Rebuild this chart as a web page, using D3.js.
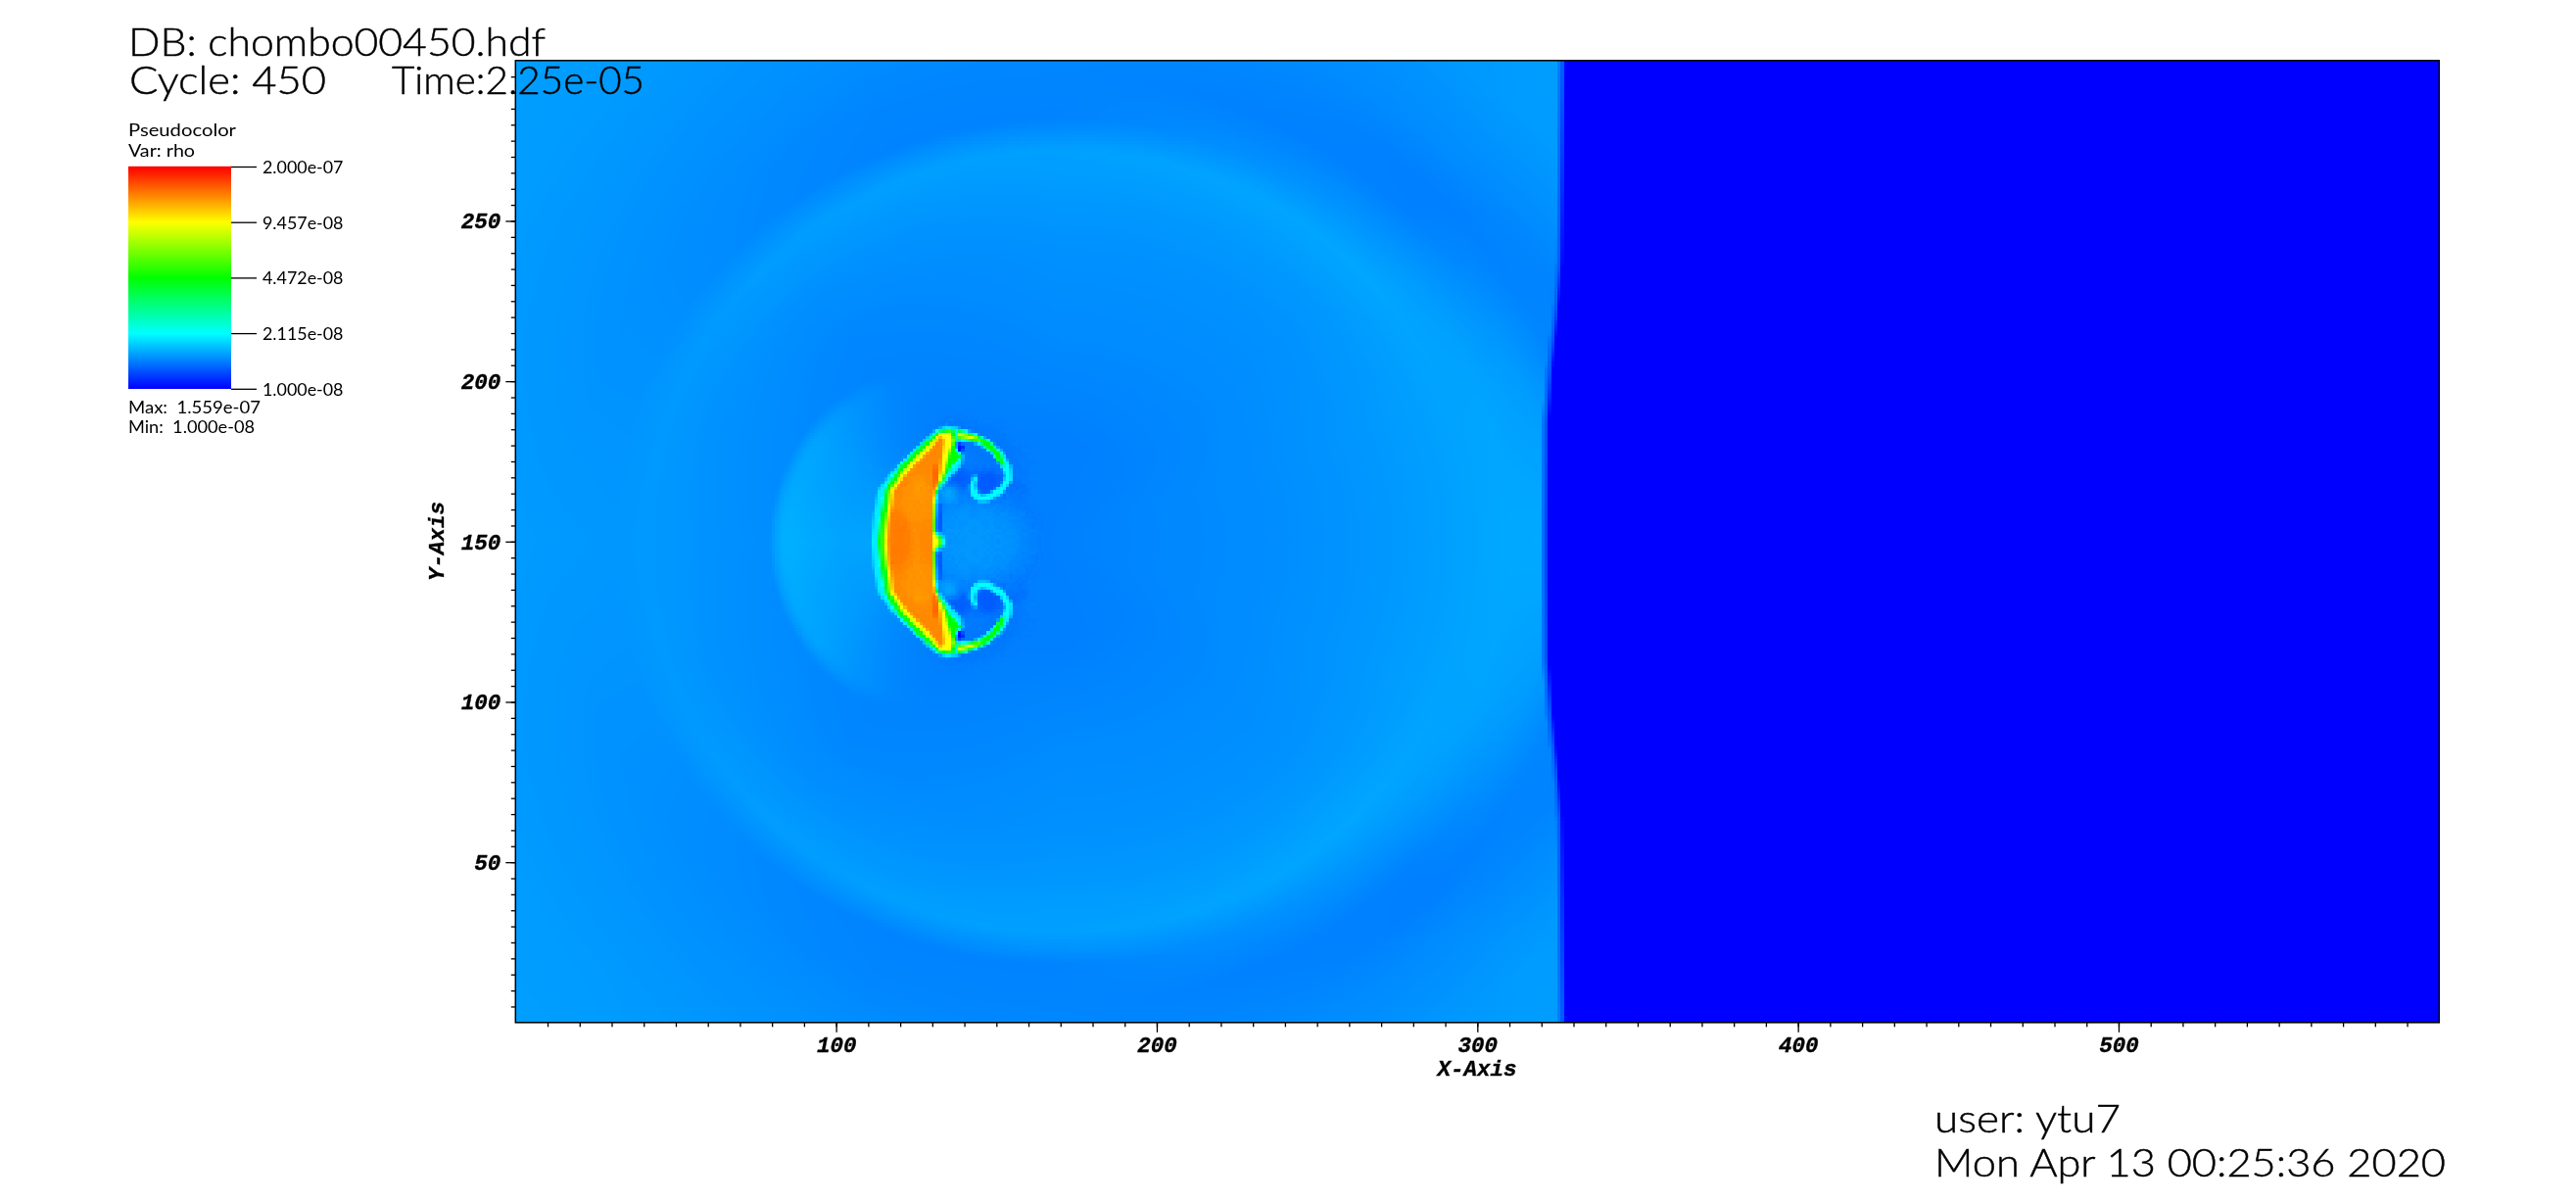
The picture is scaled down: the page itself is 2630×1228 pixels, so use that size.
<!DOCTYPE html>
<html><head><meta charset="utf-8">
<script src="https://cdn.jsdelivr.net/npm/d3@7"></script>
<style>
html,body{margin:0;padding:0;background:#fff;width:2630px;height:1228px;overflow:hidden}
#wrap{position:relative;width:2630px;height:1228px}
canvas,svg{position:absolute;left:0;top:0}
.thin{font-family:Lato,"Liberation Sans",sans-serif;font-weight:400;fill:#000;white-space:pre}
.big{font-family:Lato,"Liberation Sans",sans-serif;font-weight:300;fill:#000;stroke:#000;stroke-width:.45px;white-space:pre}
.axl{font-family:"Liberation Mono",monospace;font-weight:700;font-style:italic;fill:#000;stroke:#000;stroke-width:.35px}
</style></head><body><div id="wrap"><canvas id="c" width="2630" height="1228"></canvas><svg id="s" width="2630" height="1228"></svg></div>
<script>
// ---- labels ----
const titleLines = ["DB: chombo00450.hdf","Cycle: 450","Time:2.25e-05"];
const legendHead = ["Pseudocolor","Var: rho"];
const legendStats = ["Max:  1.559e-07","Min:  1.000e-08"];
const footerLines = ["user: ytu7","Mon Apr 13 00:25:36 2020"];
const legendTicks = [2.000e-7,9.457e-8,4.472e-8,2.115e-8,1.000e-8];
const legendTickLabels = ["2.000e-07","9.457e-08","4.472e-08","2.115e-08","1.000e-08"];
const colorStops = ["#0000ff","#00ffff","#00ff00","#ffff00","#ff0000"];
const xMajor = [100,200,300,400,500];
const yMajor = [50,100,150,200,250];
const xMinor = d3.range(10,600,10);
const yMinor = d3.range(5,300,5);
// ---- density (units of 1e-8), polar about the blast centre ----
const rhoCentre = [170,150];
const rhoStretch = 1.058;
const rhoRadii = [0,30,60,90,105,115,122,132,145,155,165,190,230,300,500];
const rhoAngles = [0,22,45,68,90,112,135,158,180];
const rhoRow0  =[1.46,1.49,1.51,1.55,1.58,1.60,1.62,1.64,1.65,1.65,1.65,1.65,1.65,1.65,1.65];
const rhoRow22 =[1.46,1.49,1.51,1.55,1.58,1.60,1.62,1.62,1.57,1.49,1.46,1.57,1.60,1.60,1.60];
const rhoRow45 =[1.46,1.47,1.50,1.53,1.56,1.60,1.63,1.56,1.46,1.45,1.50,1.58,1.60,1.60,1.60];
const rhoRow68 =[1.46,1.46,1.50,1.53,1.56,1.59,1.62,1.52,1.46,1.48,1.50,1.53,1.58,1.60,1.60];
const rhoRow90 =[1.46,1.45,1.50,1.53,1.56,1.59,1.60,1.47,1.48,1.49,1.50,1.52,1.55,1.58,1.58];
const rhoRow112=[1.46,1.45,1.48,1.51,1.54,1.57,1.60,1.47,1.48,1.50,1.52,1.55,1.58,1.60,1.60];
const rhoRow135=[1.46,1.44,1.46,1.49,1.52,1.56,1.585,1.50,1.51,1.525,1.54,1.575,1.60,1.60,1.60];
const rhoRow158=[1.46,1.46,1.47,1.51,1.53,1.55,1.57,1.54,1.54,1.55,1.56,1.585,1.60,1.60,1.60];
const rhoRow180=[1.46,1.46,1.48,1.52,1.54,1.56,1.57,1.56,1.57,1.575,1.585,1.60,1.60,1.60,1.60];
const rhoRows=[rhoRow0,rhoRow22,rhoRow45,rhoRow68,rhoRow90,rhoRow112,rhoRow135,rhoRow158,rhoRow180];
// bright lobe left of the bubble
const lobeCentre=[130,150], lobeAxes=[49,52];
const lobeRadii=[0,27,37,44,46,48,51];
const lobeRho=[1.62,1.62,1.65,1.68,1.67,1.60,1.45];
const lobeFadeAngle=[0,40,60,75,90,180];
const lobeFade=[1,0.65,0.3,0.08,0,0];
// shock front: distance from mid-plane -> x
const frontDist=[0,37,55,71,87,150];
const frontX=[321.2,321.4,322.6,324.3,325.6,326.6];
const frontOffset=[-1.5,-1,0,0.5,1];
const frontRho=[1.60,1.42,1.30,1.15,1.0];
// bubble shells (upper half; mirrored about y=150)
const shellCyan=[[110.9,150.1],[111.6,158],[113.1,166.1],[117,171.4],[123.1,177.5],[130.5,184.6],[134.5,186.2],[138.1,185.6],[137.6,180.9],[139.6,176.8],[139.1,173.7],[135,169.2],[132.2,166.1],[131.2,162],[131.1,152.8],[133.5,152.1],[133.7,150.1]];
const shellGreen=[[113.1,150.1],[114,158],[115.4,166.6],[119.8,173.2],[126.4,179.8],[132,184.6],[136.6,184.9],[137.4,181.9],[139.1,176.5],[136.6,174.2],[133.5,169.2],[131.5,166.1],[130.8,162],[130.7,152.8],[133,151.6],[133.3,150.1]];
const shellYellow=[[115.2,150.1],[115.8,158],[116.7,166.1],[121.3,172.7],[127.4,178.8],[132.5,184],[135.6,184.4],[136.6,181.4],[135.3,177.3],[133.7,171.2],[131.5,166.6],[130.5,162],[130.5,152.8],[132,151.3],[132.5,150.1]];
const shellOrange=[[116.5,150.1],[117,158],[117.7,165.6],[122.3,171.7],[128.4,177.8],[132.8,182.9],[133.7,181.4],[133,176.3],[132.5,171.2],[131,167.1],[130,162],[130,150.1]];
const armCyan=[[137.6,185.6],[142.7,184.1],[147.3,182.1],[152,178],[154.6,173.2],[154.9,169.2],[152,165.1],[147.3,162.6],[144.2,162.5],[142,164.6],[141.7,167.6],[142.8,170.6],[144.1,170.2],[143.5,167.6],[143.9,165.8],[145,164.5],[147.3,164.8],[151.2,167.3],[152.7,170.2],[151.2,174.6],[147.6,178.6],[142.7,181],[137.1,181.2]];
const armGreen=[[137.6,184.9],[142.7,183.4],[147.3,181.4],[150.9,178],[152.8,173.2],[151.3,174],[148.6,178],[144.7,180.9],[137.6,182.2]];
const armYellow=[[136.6,184.6],[142.7,182.9],[145.7,181.2],[141.7,181.9],[136.6,182.9]];
const armMiddle=[[137.6,183.4],[142.7,182.6],[147.6,180.3],[151.7,176.3],[153.7,171.2],[151.6,166.3],[147.3,163.8],[144.4,163.6]];
const bluePatch=[[137.1,180.9],[139.8,180.1],[139.1,177.5],[137.6,177.8]];
const darkUnderTooth=[[136.6,173.7],[141.7,172.2],[141.7,167.6],[136.6,167.1],[133,167.6]];
const darkEdge=[[131.5,162],[133,162],[133,153],[131.5,153.8]];
// x, y, rx, ry, level, blur
const softBlobs=[[143,150,13,11,0.15,5],[147.3,168.1,4,4,0.09,1.2],[135,165,2.5,2.5,0.17,1.2]];
const coreBlobs=[[131,170.2,0.8,4,0.905,0.5],[126,165,3,5,0.85,1.5],[119.5,149,3,10,0.88,1.5],[125.5,139,4,5,0.855,1.5]];

// ---- scales ----
const x=d3.scaleLinear().domain([0,600]).range([526.3,2490.3]);
const y=d3.scaleLinear().domain([0,300]).range([1043.8,61.8]);
const color=d3.scaleLog().domain([1e-8,2.115e-8,4.472e-8,9.457e-8,2e-7]).range(colorStops).interpolate(d3.interpolateRgb).clamp(true);
const level=d3.scaleLog().domain([1e-8,2e-7]).range([0,1]).clamp(true);
const lut=d3.range(4096).map(i=>d3.rgb(color(level.invert(i/4095))));

// ---- field ----
const NX=600,NY=300;
const gx=d3.scaleLinear().domain([0,600]).range([0,NX]);
const gy=d3.scaleLinear().domain([0,300]).range([NY,0]);
const off=document.createElement('canvas');off.width=NX;off.height=NY;
const o=off.getContext('2d',{willReadFrequently:true});
const gray=t=>{const v=Math.round(t*255);return `rgb(${v},${v},${v})`;};
const lineGen=d3.line().x(d=>gx(d[0])).y(d=>gy(d[1]));
function both(fn){fn(d=>d);fn(d=>[d[0],300-d[1]]);}
function poly(pts,t,blur){both(m=>{o.filter=`blur(${blur}px)`;o.fillStyle=gray(t);o.beginPath();lineGen.context(o)(pts.map(m));o.closePath();o.fill();o.filter='none';});}
function strokeLine(pts,t,w,blur,a){both(m=>{o.filter=`blur(${blur}px)`;o.strokeStyle=gray(t);o.globalAlpha=a;o.lineWidth=w;o.lineJoin='round';o.lineCap='round';o.beginPath();lineGen.context(o)(pts.map(m));o.stroke();o.filter='none';o.globalAlpha=1;});}
function blob(b){both(m=>{const p=m([b[0],b[1]]);o.filter=`blur(${b[5]}px)`;o.fillStyle=gray(b[4]);o.beginPath();o.ellipse(gx(p[0]),gy(p[1]),b[2],b[3],0,0,2*Math.PI);o.fill();o.filter='none';});}
strokeLine(armMiddle,0.108,9,2.2,0.6);
blob(softBlobs[0]);blob(softBlobs[1]);
poly(darkUnderTooth,0.095,1.2);blob(softBlobs[2]);
poly(darkEdge,0.09,0.7);
poly(armCyan,0.25,0.3);poly(armGreen,0.5,0.3);poly(armYellow,0.72,0.3);
poly(shellCyan,0.23,0.6);poly(shellGreen,0.5,0.6);poly(shellYellow,0.75,0.5);poly(shellOrange,0.868,0.45);
coreBlobs.forEach(blob);
poly(bluePatch,0.015,0.5);
const ov=o.getImageData(0,0,NX,NY).data;

const radial=rhoRows.map(r=>d3.scaleLinear().domain(rhoRadii).range(r).clamp(true));
const front=d3.scaleLinear().domain(frontDist).range(frontX).clamp(true);
const frontProf=d3.scaleLinear().domain(frontOffset).range(frontRho).clamp(true);
const lobeProf=d3.scaleLinear().domain(lobeRadii).range(lobeRho).clamp(true);
const lobeW=d3.scaleLinear().domain(lobeFadeAngle).range(lobeFade).clamp(true);
const img=new ImageData(NX,NY);
for(let j=0;j<NY;j++){
  const dataY=300-(j+.5);
  for(let i=0;i<NX;i++){
    const dataX=i+.5;
    const ddx=(dataX-rhoCentre[0])/rhoStretch, ddy=Math.abs(dataY-rhoCentre[1]);
    const rr=Math.hypot(ddx,ddy), ang=Math.atan2(ddy,ddx)*180/Math.PI;
    let k=d3.bisectRight(rhoAngles,ang)-1; k=Math.min(k,rhoAngles.length-2);
    const f=(ang-rhoAngles[k])/(rhoAngles[k+1]-rhoAngles[k]);
    let v=radial[k](rr)*(1-f)+radial[k+1](rr)*f;
    const lx=(dataX-lobeCentre[0])/lobeAxes[0]*48, ly=(dataY-lobeCentre[1])/lobeAxes[1]*48;
    const lr=Math.hypot(lx,ly);
    if(lr<51&&dataX<lobeCentre[0]+10){
      const la=Math.atan2(Math.abs(ly),-lx)*180/Math.PI;
      const p=lobeProf(lr), w=lobeW(la);
      if(p>v) v=v+(p-v)*w;
    }
    const fx=front(Math.abs(dataY-150));
    const off2=dataX-fx;
    if(off2>-1.5) v=Math.min(v,frontProf(off2));
    let t=level(v*1e-8);
    const q=(j*NX+i)*4, a=ov[q+3]/255;
    if(a>0) t=t*(1-a)+(ov[q]/255)*a;
    const c=lut[Math.round(t*4095)];
    img.data[q]=c.r;img.data[q+1]=c.g;img.data[q+2]=c.b;img.data[q+3]=255;
  }
}
o.clearRect(0,0,NX,NY);o.putImageData(img,0,0);
const ctx=document.getElementById('c').getContext('2d');
ctx.fillStyle='#fff';ctx.fillRect(0,0,2630,1228);
ctx.imageSmoothingEnabled=false;
ctx.drawImage(off,x(0),y(300),x(600)-x(0),y(0)-y(300));

// ---- legend bar ----
const barY=d3.scaleLog().domain([1e-8,2e-7]).range([396.8,170]);
const barX=[131,236];
const barVals=d3.range(0,227).map(i=>barY.invert(396.8-i-.5));
const svg=d3.select('#s');
const bar=svg.append('g');
bar.selectAll('rect').data(barVals).join('rect')
  .attr('x',barX[0]).attr('width',barX[1]-barX[0])
  .attr('y',d=>barY(d)-.5).attr('height',1.2).attr('fill',d=>color(d));
const legAxis=d3.axisRight(barY).tickValues(legendTicks).tickSize(26).tickFormat((d,i)=>legendTickLabels[i]);
const gl=svg.append('g').attr('transform',`translate(${barX[1]},0)`).call(legAxis);
gl.select('.domain').remove();
gl.selectAll('line').attr('stroke','#000').attr('stroke-width',1.3);
gl.selectAll('text').attr('class','thin').attr('x',32).attr('font-size',18).attr('dy','.35em')
  .attr('textLength',82.5).attr('lengthAdjust','spacingAndGlyphs');

// ---- axes ----
function axisStyle(g){g.select('.domain').remove();g.selectAll('line').attr('stroke','#000').attr('stroke-width',1.3);}
const gxm=svg.append('g').attr('transform',`translate(0,${y(0)})`).call(d3.axisBottom(x).tickValues(xMinor).tickSize(4.5).tickFormat('')).call(axisStyle);
const gxM=svg.append('g').attr('transform',`translate(0,${y(0)})`).call(d3.axisBottom(x).tickValues(xMajor).tickSize(10).tickPadding(4).tickFormat(d3.format('d'))).call(axisStyle);
gxM.selectAll('text').attr('class','axl').attr('font-size',22.5).attr('text-anchor','middle').attr('dy','0.72em');
const gym=svg.append('g').attr('transform',`translate(${x(0)},0)`).call(d3.axisLeft(y).tickValues(yMinor).tickSize(4.5).tickFormat('')).call(axisStyle);
const gyM=svg.append('g').attr('transform',`translate(${x(0)},0)`).call(d3.axisLeft(y).tickValues(yMajor).tickSize(10).tickPadding(5).tickFormat(d3.format('d'))).call(axisStyle);
gyM.selectAll('text').attr('class','axl').attr('font-size',22.5);
svg.append('rect').attr('x',x(0)).attr('y',y(300)).attr('width',x(600)-x(0)).attr('height',y(0)-y(300)).attr('fill','none').attr('stroke','#000').attr('stroke-width',1.5);
svg.append('text').attr('class','axl').attr('font-size',22.5).attr('x',1508).attr('y',1098.3).attr('text-anchor','middle').text('X-Axis');
svg.append('text').attr('class','axl').attr('font-size',22.5).attr('text-anchor','middle').attr('transform','translate(453,552.5) rotate(-90)').text('Y-Axis');

// ---- text ----
function label(str,xp,base,xr,size,cls){
  svg.append('text').attr('class',cls).attr('x',xp).attr('y',base).attr('font-size',size)
    .attr('textLength',xr-xp).attr('lengthAdjust','spacingAndGlyphs').text(str);
}
label(titleLines[0],131,56.7,557,40,'big');
label(titleLines[1],132,95.7,333,40,'big');
label(titleLines[2],400,95.7,658,40,'big');
label(legendHead[0],131,139.3,241,18,'thin');
label(legendHead[1],131,160,199,18,'thin');
label(legendStats[0],131,422.3,266,18,'thin');
label(legendStats[1],131,442.3,260,18,'thin');
label(footerLines[0],1975,1155.7,2165,40,'big');
label(footerLines[1],1975,1200.7,2497,40,'big');
</script></body></html>
